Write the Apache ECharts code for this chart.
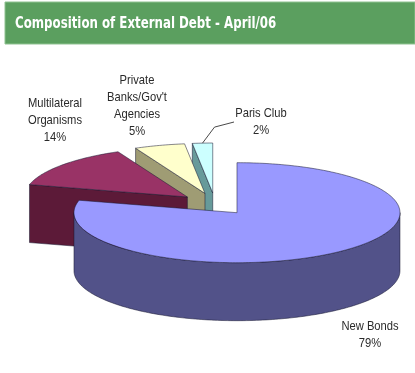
<!DOCTYPE html>
<html>
<head>
<meta charset="utf-8">
<script src="https://cdn.jsdelivr.net/npm/echarts@6/dist/echarts.min.js"></script>
<style>
  html, body { margin: 0; padding: 0; background: #ffffff; }
  #chart { width: 415px; height: 373px; }
</style>
</head>
<body>
<div id="chart"></div>
<script>
// ---- data ----
const titleText = 'Composition of External Debt - April/06';
const categories = ['New Bonds', 'Multilateral Organisms', "Private Banks/Gov't Agencies", 'Paris Club'];
const labelLines = ['New Bonds', 'Multilateral\nOrganisms', "Private\nBanks/Gov't\nAgencies", 'Paris Club'];
const shares = [79, 14, 5, 2];

// ---- styling / layout ----
const topColors = ['#9999ff', '#993366', '#ffffcc', '#ccffff'];
const sideColors = ['#525289', '#5c1a38', '#9f9c74', '#679a9a'];
const labelAnchors = [[370, 335], [55, 120], [137, 106], [261, 122]];
const leaderSlices = [3];
const PIE = { cx: 215, cy: 204, rx: 163, ry: 50, depth: 58, explode: 0.22 };
const LABEL_FONT = '"Liberation Sans", Arial, sans-serif';

// point on the tilted rim; angle measured clockwise from 12 o'clock
function rimPoint(c, a, dy) {
  return [c[0] + PIE.rx * Math.sin(a), c[1] - PIE.ry * Math.cos(a) + (dy || 0)];
}

function arcPoints(c, a0, a1, dy) {
  const pts = [];
  const n = Math.max(2, Math.ceil((a1 - a0) / 0.02));
  for (let s = 0; s <= n; s++) pts.push(rimPoint(c, a0 + (a1 - a0) * s / n, dy));
  return pts;
}

function renderSlice(params, api) {
  const i = params.dataIndex;
  const total = shares.reduce((s, v) => s + v, 0);
  let before = 0;
  for (let k = 0; k < i; k++) before += shares[k];
  const v = api.value(0);
  const TAU = Math.PI * 2;
  const a0 = before / total * TAU;
  const a1 = (before + v) / total * TAU;
  const mid = (a0 + a1) / 2;
  // exploded slice centre
  const c = [PIE.cx + PIE.explode * PIE.rx * Math.sin(mid),
             PIE.cy - PIE.explode * PIE.ry * Math.cos(mid)];
  // slices nearer the viewer are painted later
  const zBase = Math.round((1 - Math.cos(mid)) * 100) * 10;
  const edge = { stroke: 'rgba(25,25,50,0.75)', lineWidth: 0.7, lineJoin: 'round' };
  const children = [];

  // outer wall: only the front half faces the viewer
  const w0 = Math.max(a0, Math.PI / 2), w1 = Math.min(a1, Math.PI * 1.5);
  if (w1 > w0) {
    const pts = arcPoints(c, w0, w1, 0).concat(arcPoints(c, w0, w1, PIE.depth).reverse());
    children.push({ type: 'polygon', shape: { points: pts },
      style: Object.assign({ fill: sideColors[i] }, edge), z2: zBase + 1 });
  }

  // cut faces along the two radii
  [[a0, a0 - Math.PI / 2], [a1, a1 + Math.PI / 2]].forEach(([a, normal]) => {
    if (Math.cos(normal) < -1e-6) {
      const p = rimPoint(c, a, 0);
      children.push({ type: 'polygon',
        shape: { points: [c, p, [p[0], p[1] + PIE.depth], [c[0], c[1] + PIE.depth]] },
        style: Object.assign({ fill: sideColors[i] }, edge), z2: zBase + 1 });
    }
  });

  // top face
  children.push({ type: 'polygon', shape: { points: [c].concat(arcPoints(c, a0, a1, 0)) },
    style: Object.assign({ fill: topColors[i] }, edge), z2: zBase + 2 });

  // label (narrowed glyphs)
  const pct = Math.round(v / total * 100) + '%';
  const anchor = labelAnchors[i];
  children.push({ type: 'text', x: anchor[0], y: anchor[1], scaleX: 0.86, z2: 5000,
    style: { text: labelLines[i] + '\n' + pct, align: 'center', verticalAlign: 'middle',
      fontFamily: LABEL_FONT, fontSize: 13, lineHeight: 17, fill: '#2a2a2a' } });

  if (leaderSlices.indexOf(i) >= 0) {
    const start = rimPoint(c, mid, 0);
    const knee = [start[0] + 12, start[1] - 16];
    const end = [anchor[0] - 27, anchor[1]];
    children.push({ type: 'polyline', shape: { points: [start, knee, end] }, z2: 5000,
      style: { stroke: '#333333', lineWidth: 0.9, fill: null } });
  }

  return { type: 'group', children: children };
}

const chart = echarts.init(document.getElementById('chart'), null, { renderer: 'canvas' });
chart.setOption({
  animation: false,
  backgroundColor: '#ffffff',
  graphic: [
    { type: 'rect', shape: { x: 5, y: 2, width: 410, height: 42 },
      style: { fill: '#5b9f5f', stroke: '#8fc291', lineWidth: 1 }, z: 0 },
    { type: 'text', x: 15, y: 24, scaleX: 0.82, z: 1,
      style: { text: titleText, fill: '#ffffff', verticalAlign: 'middle',
        fontFamily: '"DejaVu Sans Condensed", "DejaVu Sans", sans-serif',
        fontWeight: 'bold', fontSize: 16 } }
  ],
  series: [{
    type: 'custom',
    coordinateSystem: 'none',
    renderItem: renderSlice,
    data: shares.map((v, i) => ({ name: categories[i], value: [v] }))
  }]
});
</script>
</body>
</html>
